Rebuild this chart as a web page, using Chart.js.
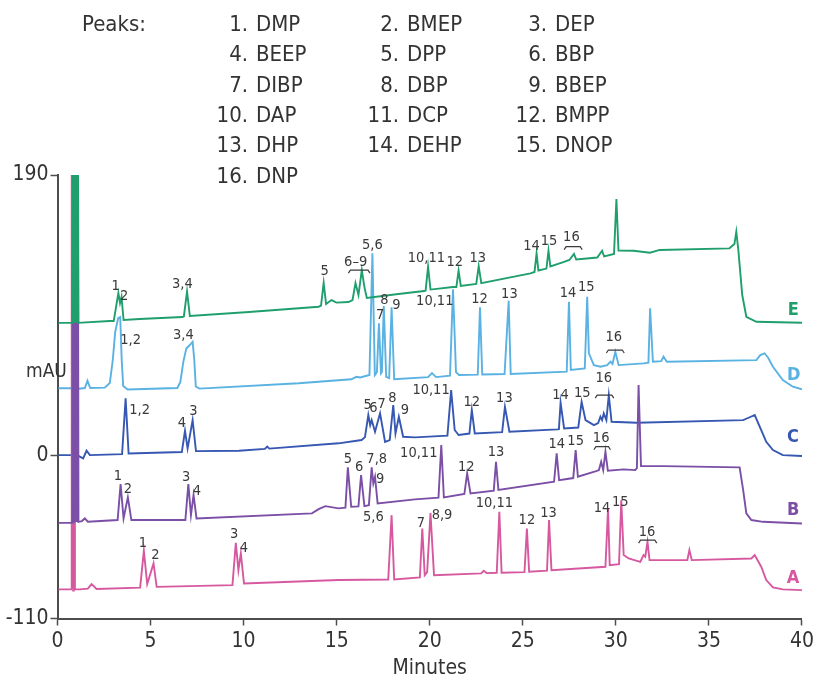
<!DOCTYPE html>
<html>
<head>
<meta charset="utf-8">
<script src="https://cdn.jsdelivr.net/npm/chart.js@4.4.1/dist/chart.umd.min.js"></script>
<style>
    html, body { margin: 0; padding: 0; background: #fff; }
    #chart-cromatograma { display: block; }
</style>
</head>
<body>
<canvas id="chart-cromatograma" width="817" height="681"></canvas>
<script>
// cromatograma.js - ftalatos, 5 condiciones (A-E)
const FONT = "'Liberation Sans Narrow', 'DejaVu Sans Condensed', 'Arial Narrow', sans-serif";

const yTicks = [190, 0, -110];
const xStep = 5;

const traceNames = ['E', 'D', 'C', 'B', 'A'];
const traceColors = ['#1f9f6c', '#5ab2e3', '#3657b2', '#7b4fa6', '#d6599f'];
const traceOrder = [0, 3, 4, 1, 2]; // E encima, luego B

const peakNames = ['DMP', 'BMEP', 'DEP', 'BEEP', 'DPP', 'BBP', 'DIBP', 'DBP', 'BBEP',
    'DAP', 'DCP', 'BMPP', 'DHP', 'DEHP', 'DNOP', 'DNP'];

// [minutos, mAU]
const traceE = [[0.05,90],[0.87,90],[0.91,300],[1.03,300],[1.07,90],[2.81,91.2],[3.02,91.2],[3.27,110.2],[3.36,103.4],[3.44,107.5],[3.55,91.9],[4.41,92.6],[6.71,93.9],[6.79,94.3],[6.96,111.2],[7.11,94.6],[10.29,97.3],[14.03,100.9],[14.16,101.7],[14.30,117.1],[14.43,102.7],[14.72,105.4],[14.99,103.7],[15.63,104.1],[15.85,105.4],[16.01,116.9],[16.17,108.8],[16.35,125.7],[16.49,114.2],[16.62,106.8],[18.31,109.5],[19.70,111.5],[19.78,111.9],[19.91,128.0],[20.04,112.5],[21.25,114.2],[21.43,114.2],[21.55,125.3],[21.67,114.9],[22.50,116.3],[22.63,128.4],[22.77,116.9],[25.41,123.5],[25.63,124.4],[25.74,137.0],[25.84,125.4],[26.27,126.7],[26.38,138.8],[26.48,128.1],[27.18,131.1],[27.50,132.5],[27.75,136.6],[27.87,132.8],[29.00,134.2],[29.26,138.8],[29.37,134.9],[29.90,136.6],[30.03,173.8],[30.14,138.9],[30.96,138.8],[31.83,137.4],[32.36,139.3],[36.10,140.4],[36.37,143.3],[36.47,151.6],[36.58,139.3],[36.79,108.8],[37.01,94.1],[37.55,90.7],[40.0,90.1]];

const traceD = [[0.05,45.7],[0.86,45.7],[0.90,300],[1.00,300],[1.04,45.2],[1.47,45.9],[1.61,50.8],[1.76,45.9],[2.54,46.2],[2.81,49.3],[2.97,64.8],[3.10,83.8],[3.26,93.2],[3.37,93.9],[3.45,64.8],[3.53,47.2],[3.77,44.9],[6.44,45.9],[6.60,50.0],[6.76,63.6],[6.92,72.6],[7.11,75.0],[7.26,77.2],[7.35,64.8],[7.43,46.9],[7.62,45.5],[12.96,49.1],[15.79,51.8],[16.06,53.5],[16.27,53.0],[16.76,54.7],[16.92,137.0],[17.05,54.7],[17.16,56.7],[17.27,89.7],[17.38,55.8],[17.43,56.7],[17.53,101.4],[17.66,53.5],[17.82,52.6],[17.95,100.5],[18.09,51.8],[19.91,53.3],[20.12,56.0],[20.34,53.3],[21.09,54.3],[21.25,112.7],[21.41,56.7],[21.57,54.7],[22.58,55.0],[22.70,100.5],[22.82,55.1],[24.02,55.4],[24.24,105.0],[24.35,55.4],[27.36,57.0],[27.48,104.3],[27.58,58.1],[28.33,59.1],[28.46,107.7],[28.55,69.4],[28.82,61.4],[29.17,60.3],[29.53,61.4],[29.71,63.7],[29.82,62.1],[29.97,70.4],[30.15,61.4],[31.49,62.6],[31.75,63.1],[31.84,99.8],[31.99,63.7],[32.44,64.1],[32.56,67.1],[32.74,63.7],[37.55,64.8],[37.76,68.2],[37.99,69.4],[38.19,66.2],[38.44,60.3],[38.97,51.3],[39.51,46.8],[40.0,45.0]];

const traceC = [[0.05,0.5],[0.86,0.5],[0.90,300],[1.00,300],[1.04,0.5],[1.38,-1.7],[1.56,3.5],[1.74,0.5],[3.47,1.2],[3.66,38.9],[3.82,1.6],[6.68,2.6],[6.85,17.0],[6.99,5.1],[7.26,24.2],[7.44,3.2],[9.75,3.5],[11.14,4.7],[11.27,6.3],[11.38,4.9],[15.10,8.5],[16.34,10.7],[16.52,12.7],[16.70,27.6],[16.80,20.8],[16.88,24.2],[17.06,16.3],[17.33,28.8],[17.60,9.5],[17.85,10.7],[18.04,34.4],[18.16,15.2],[18.34,26.5],[18.57,12.9],[19.20,12.5],[20.95,13.7],[21.15,44.5],[21.34,17.5],[21.55,14.1],[22.13,15.1],[22.26,31.0],[22.42,15.2],[23.89,16.1],[24.04,33.2],[24.28,16.3],[26.86,17.9],[26.94,18.1],[27.03,35.9],[27.22,18.6],[27.98,19.2],[28.16,36.6],[28.37,24.2],[28.82,20.8],[29.05,22.2],[29.17,26.5],[29.26,24.2],[29.35,28.8],[29.49,24.2],[29.62,41.1],[29.77,23.1],[31.13,22.4],[36.84,24.2],[37.22,26.3],[37.46,27.6],[37.81,17.5],[38.08,9.5],[38.44,3.9],[38.97,0.5],[40.0,-0.1]];

const traceB = [[0.05,-45.3],[0.85,-45.3],[0.89,300],[1.03,300],[1.07,-44.8],[1.31,-44.1],[1.47,-42.3],[1.63,-44.5],[3.23,-43.4],[3.39,-19.1],[3.55,-42.3],[3.78,-28.1],[3.97,-43.4],[6.87,-43.4],[7.03,-19.1],[7.17,-40.1],[7.31,-26.5],[7.47,-42.3],[13.67,-38.9],[14.03,-36.0],[14.39,-34.0],[15.10,-35.5],[15.47,-35.0],[15.60,-7.8],[15.78,-34.4],[16.17,-34.2],[16.31,-13.0],[16.49,-34.0],[16.73,-33.3],[16.88,-7.8],[16.97,-18.6],[17.06,-14.1],[17.20,-32.1],[19.20,-29.4],[20.47,-28.2],[20.62,7.3],[20.76,-28.1],[21.86,-25.8],[22.01,-11.8],[22.19,-25.4],[23.44,-23.5],[23.56,-4.0],[23.69,-23.1],[26.68,-17.5],[26.82,1.7],[26.95,-16.4],[27.71,-15.0],[27.84,3.9],[27.96,-14.1],[28.94,-10.3],[29.09,-9.6],[29.21,-4.0],[29.32,-9.6],[29.44,2.8],[29.57,-10.1],[30.42,-9.1],[31.04,-9.6],[31.13,-8.3],[31.22,47.9],[31.35,-6.9],[32.56,-6.9],[36.65,-7.8],[36.84,-23.1],[37.01,-38.9],[37.28,-43.4],[37.90,-44.6],[40.0,-45.7]];

const traceA = [[0.05,-90.3],[0.79,-90.3],[0.82,300],[0.85,300],[0.88,-90.3],[1.20,-90.3],[1.63,-89.8],[1.83,-86.7],[2.10,-90.0],[4.44,-89.1],[4.64,-64.2],[4.82,-86.7],[5.16,-72.7],[5.33,-88.6],[9.40,-87.4],[9.58,-58.8],[9.72,-77.3],[9.85,-66.0],[10.02,-86.3],[15.10,-84.0],[17.77,-83.6],[17.95,-40.1],[18.09,-83.6],[19.47,-82.2],[19.60,-49.1],[19.73,-80.7],[19.86,-78.6],[20.04,-38.7],[20.23,-80.7],[22.76,-79.5],[22.90,-77.7],[23.06,-79.3],[23.60,-79.1],[23.74,-37.8],[23.86,-79.1],[25.09,-78.6],[25.22,-49.1],[25.34,-78.4],[26.30,-77.6],[26.41,-43.4],[26.54,-77.3],[29.44,-75.0],[29.58,-35.5],[29.67,-73.9],[30.17,-73.2],[30.29,-30.1],[30.42,-67.1],[30.69,-69.4],[31.31,-71.7],[31.49,-67.1],[31.58,-68.2],[31.70,-58.1],[31.81,-70.5],[33.84,-70.5],[33.95,-63.7],[34.08,-70.5],[37.28,-69.4],[37.46,-67.1],[37.81,-75.0],[38.08,-84.0],[38.44,-89.0],[38.97,-90.3],[40.0,-90.8]];

// etiquetas de picos [texto, minutos, mAU]
const labelsE = [['1',3.13,114.9],['2',3.58,108.1],['3,4',6.71,116.3],['5',14.35,124.6],['6\u20139',16.02,131.3],['10,11',19.82,133.7],['12',21.34,130.7],['13',22.58,133.7],['14',25.47,141.5],['15',26.41,144.9],['16',27.61,147.9]];
const labelsD = [['1,2',3.93,78.4],['3,4',6.76,81.7],['5,6',16.92,142.7],['7',17.33,95.3],['8',17.56,105.4],['9',18.21,102.0],['10,11',20.27,104.3],['12',22.67,105.9],['13',24.28,109.5],['14',27.43,110.0],['15',28.41,114.0],['16',29.89,80.2]];
const labelsC = [['1,2',4.41,31.0],['4',6.69,22.4],['3',7.30,30.5],['5',16.66,34.4],['6',16.97,32.1],['7',17.41,35.1],['8',18.00,38.9],['9',18.66,31.0],['10,11',20.07,44.1],['12',22.26,36.6],['13',24.01,38.9],['14',27.03,41.1],['15',28.19,42.3],['16',29.35,52.4]];
const labelsB = [['1',3.25,-13.7],['2',3.78,-22.7],['3',6.91,-14.5],['4',7.49,-23.8],['5',15.60,-2.4],['6',16.21,-7.4],['7,8',17.15,-2.4],['9',17.33,-15.9],['10,11',19.41,2.1],['12',21.96,-7.8],['13',23.56,2.8],['14',26.82,8.0],['15',27.84,10.2],['16',29.21,11.8]];
const labelsA = [['1',4.59,-58.8],['2',5.26,-67.1],['3',9.49,-52.9],['4',10.02,-62.6],['5,6',16.97,-41.2],['7',19.52,-45.3],['8,9',20.66,-40.1],['10,11',23.47,-32.1],['12',25.22,-43.4],['13',26.38,-38.5],['14',29.26,-35.5],['15',30.24,-31.1],['16',31.67,-51.4]];

// barras bajo grupos [desde, hasta, mAU]
const bracketsE = [[15.63,16.79,125.7],[27.22,28.19,141.5]];
const bracketsD = [[29.49,30.45,71.6]];
const bracketsC = [[28.89,29.89,41.1]];
const bracketsB = [[28.82,29.71,6.2]];
const bracketsA = [[31.22,32.20,-57.0]];

// letra de cada traza [minutos, mAU]
const tracePos = [[39.53,98.6],[39.55,54.7],[39.52,12.7],[39.52,-36.8],[39.52,-82.7]];

const traces = [traceE, traceD, traceC, traceB, traceA];
const peakLabels = [labelsE, labelsD, labelsC, labelsB, labelsA];
const brackets = [bracketsE, bracketsD, bracketsC, bracketsB, bracketsA];

let chartCromatograma = null;

document.addEventListener('DOMContentLoaded', () => {
    renderCromatograma();
});

const textosPlugin = {
    id: 'textos',
    afterDraw(chart) {
        const ctx = chart.ctx;
        const x = chart.scales.x;
        const y = chart.scales.y;
        ctx.save();

        // leyenda de picos
        ctx.fillStyle = '#333';
        ctx.textBaseline = 'middle';
        ctx.font = `22px ${FONT}`;
        ctx.textAlign = 'left';
        ctx.fillText('Peaks:', 82, 25);
        const colDot = [248, 399, 547];
        peakNames.forEach((name, i) => {
            const cx = colDot[i % 3];
            const cy = 25 + Math.floor(i / 3) * 30.4;
            ctx.textAlign = 'right';
            ctx.fillText(`${i + 1}.`, cx, cy);
            ctx.textAlign = 'left';
            ctx.fillText(name, cx + 8, cy);
        });

        // unidad del eje
        ctx.font = `19px ${FONT}`;
        ctx.textAlign = 'left';
        ctx.fillText('mAU', 26, 372);

        // etiquetas de picos
        ctx.font = `14.5px ${FONT}`;
        ctx.textAlign = 'center';
        ctx.fillStyle = '#3a3a3a';
        peakLabels.forEach(lista => {
            lista.forEach(([txt, t, v]) => {
                ctx.fillText(txt, x.getPixelForValue(t), y.getPixelForValue(v));
            });
        });

        ctx.strokeStyle = '#3a3a3a';
        ctx.lineWidth = 1.2;
        brackets.forEach(lista => {
            lista.forEach(([t1, t2, v]) => {
                const x1 = x.getPixelForValue(t1);
                const x2 = x.getPixelForValue(t2);
                const py = y.getPixelForValue(v);
                ctx.beginPath();
                ctx.moveTo(x1, py + 3);
                ctx.lineTo(x1 + 2, py);
                ctx.lineTo(x2 - 2, py);
                ctx.lineTo(x2, py + 3);
                ctx.stroke();
            });
        });

        // letras A-E
        ctx.font = `bold 18px ${FONT}`;
        traceNames.forEach((n, i) => {
            ctx.fillStyle = traceColors[i];
            ctx.fillText(n, x.getPixelForValue(tracePos[i][0]), y.getPixelForValue(tracePos[i][1]));
        });
        ctx.restore();
    }
};

function renderCromatograma() {
    const ctx = document.getElementById('chart-cromatograma');
    if (!ctx) return;
    if (chartCromatograma) chartCromatograma.destroy();

    const ejeGrid = { drawOnChartArea: false, drawTicks: true, tickLength: 7, color: '#4d4d4d', tickWidth: 1.5 };
    const ejeBorde = { display: true, color: '#4d4d4d', width: 2 };

    chartCromatograma = new Chart(ctx, {
        type: 'line',
        data: {
            datasets: traces.map((tr, i) => ({
                label: traceNames[i],
                data: tr.map(p => ({ x: p[0], y: p[1] })),
                borderColor: traceColors[i],
                borderWidth: 1.9,
                pointRadius: 0,
                tension: 0,
                order: traceOrder[i],
                fill: false,
                // pico del disolvente, fuera de escala: trazo grueso
                segment: {
                    borderWidth: s => (s.p0.parsed.y > 190 || s.p1.parsed.y > 190) ? 4 : undefined
                }
            }))
        },
        options: {
            responsive: false,
            animation: false,
            layout: { padding: { top: 175, right: 11, bottom: 0, left: 0 } },
            plugins: { legend: { display: false }, tooltip: { enabled: false } },
            scales: {
                x: {
                    type: 'linear', min: 0, max: 40,
                    ticks: { stepSize: xStep, color: '#333', font: { family: FONT, size: 21 }, padding: 3, maxRotation: 0, autoSkip: false },
                    grid: ejeGrid,
                    border: ejeBorde,
                    title: { display: true, text: 'Minutes', color: '#333', font: { family: FONT, size: 21 }, padding: { top: 0, bottom: 0 } },
                    afterFit: s => { s.height = 62.5; }
                },
                y: {
                    type: 'linear', min: -110, max: 190,
                    afterBuildTicks: s => { s.ticks = yTicks.map(v => ({ value: v })); },
                    ticks: { color: '#333', font: { family: FONT, size: 21 }, padding: 2 },
                    grid: ejeGrid,
                    border: ejeBorde,
                    afterFit: s => { s.width = 57.5; }
                }
            }
        },
        plugins: [textosPlugin]
    });
}
</script>
</body>
</html>
